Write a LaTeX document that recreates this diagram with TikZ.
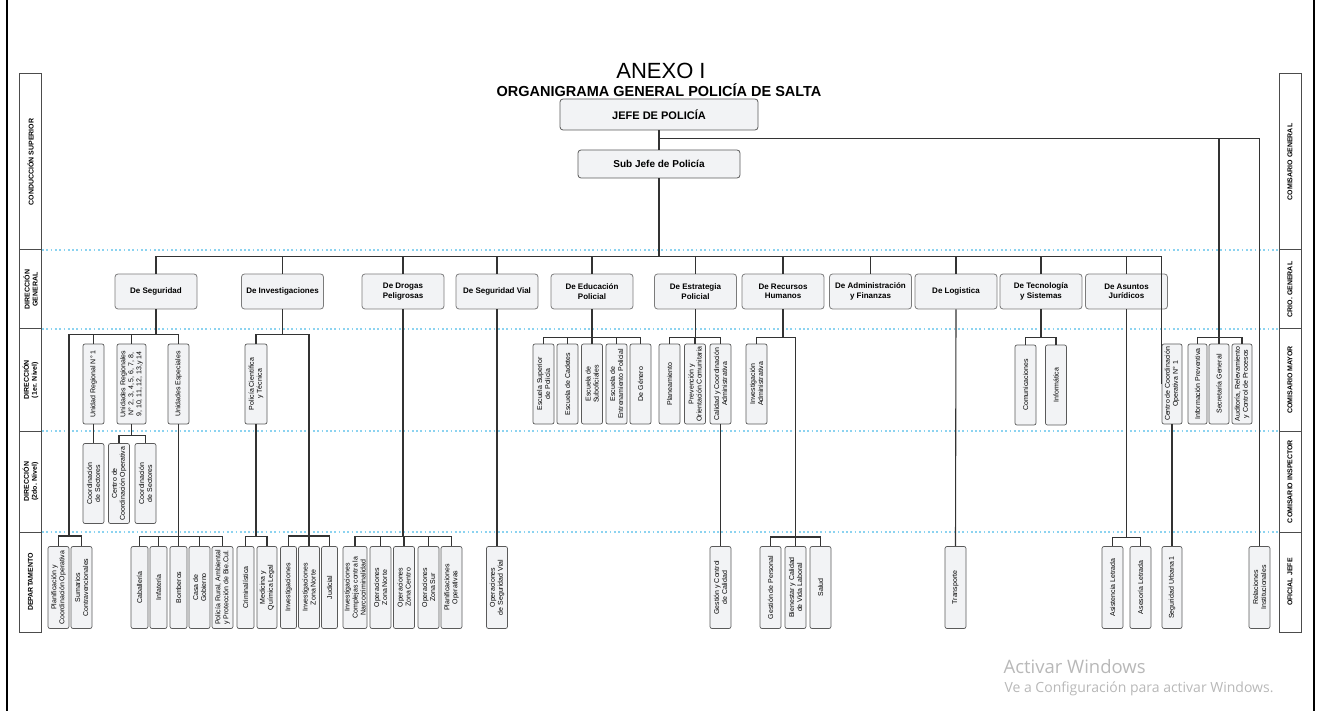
\documentclass[tikz,border=0pt]{standalone}
\usepackage{fontspec}
\setmainfont{Liberation Sans}
\newfontfamily\wmfont{Open Sans}
\usetikzlibrary{positioning,calc}

\definecolor{boxfill}{HTML}{F2F3F5}
\definecolor{boxline}{HTML}{5A5A5A}
\definecolor{linecol}{HTML}{333333}
\definecolor{rowcol}{HTML}{8CD3F0}

\begin{document}
\begin{tikzpicture}[x=1pt,y=-1pt,
    link/.style={draw=linecol,line width=1.1pt},
    rowsep/.style={draw=rowcol,line width=1.7pt,dash pattern=on 1.7pt off 2.6pt},
    sidecell/.style={rectangle,draw=black!70,line width=1pt,rotate=90,minimum height=22pt,inner sep=0pt,align=center,font=\fontsize{7}{8}\selectfont\bfseries},
    topbox/.style={rectangle,rounded corners=3pt,draw=boxline,fill=boxfill,line width=0.8pt},
    dirbox/.style={rectangle,rounded corners=3pt,draw=boxline!80,fill=boxfill,line width=0.8pt,minimum width=82pt,minimum height=35pt,align=center,inner sep=1pt,font=\fontsize{8}{9.5}\selectfont\bfseries},
    vbox/.style={rectangle,rounded corners=2pt,draw=boxline,fill=boxfill,line width=0.7pt,rotate=90,minimum width=80pt,minimum height=21pt,inner sep=0.5pt,align=center,font=\fontsize{7}{8}\selectfont},
    dbox/.style={vbox,minimum width=82pt}
]
    \useasboundingbox (0,0) rectangle (1318,711);

    % Outer frame
    \draw[line width=2pt] (7,0) -- (7,711);
    \draw[line width=2pt] (1314,0) -- (1314,711);

    % Row separators
    \foreach \y in {250,329,431,532} { \draw[rowsep] (42,\y) -- (1279,\y); }

    % Rank columns, left and right
    \foreach \t/\b/\lt/\rt in {74/250/{CONDUCCIÓN SUPERIOR}/{COMISARIO GENERAL},
        250/329/{DIRECCIÓN\\GENERAL}/{CRIO. GENERAL},
        329/431/{DIRECCIÓN\\(1er. Nivel)}/{COMISARIO MAYOR},
        431/532/{DIRECCIÓN\\(2do. Nivel)}/{COMISARIO INSPECTOR},
        532/632/{DEPARTAMENTO}/{OFICIAL JEFE}} {
        \node[sidecell,minimum width={(\b-\t)*1pt}] (L\t) at (30.5,{(\t+\b)/2}) {\lt};
        \node[sidecell,minimum width={(\b-\t)*1pt}] (R\t) at (1290,{(\t+\b)/2}) {\rt};
    }

    % Title
    \node[font=\fontsize{22}{24}\selectfont] (anexo) at (661,71) {ANEXO I};
    \node[font=\fontsize{14.5}{16}\selectfont\bfseries] (titulo) at (659,90) {ORGANIGRAMA GENERAL POLICÍA DE SALTA};

    % Conduccion superior
    \node[topbox,minimum width=198pt,minimum height=31pt,font=\fontsize{11}{12}\selectfont\bfseries] (jefe) at (659,114.5) {JEFE DE POLICÍA};
    \node[topbox,minimum width=162pt,minimum height=28pt,font=\fontsize{10}{12}\selectfont\bfseries] (subjefe) at (659,164) {Sub Jefe de Policía};
    \draw[link] (jefe) -- (subjefe);

    % Direccion general
    \foreach \n/\x/\t in {dSeg/156/{De Seguridad}, dInv/282.5/{De Investigaciones},
        dDro/403/{De Drogas\\Peligrosas}, dVial/497/{De Seguridad Vial},
        dEdu/592/{De Educación\\Policial}, dEst/695.5/{De Estrategia\\Policial},
        dRRHH/783/{De Recursos\\Humanos}, dAdm/870.5/{De Administración\\y Finanzas},
        dLog/956/{De Logistica}, dTec/1041/{De Tecnología\\y Sistemas},
        dJur/1126.5/{De Asuntos\\Jurídicos}} {
        \node[dirbox] (\n) at (\x,291.5) {\t};
    }

    % Direccion 1er. Nivel
    \node[vbox] (ur1) at (93.5,384) {Unidad Regional N° 1};
    \node[vbox,minimum height=29pt] (urs) at (131.5,384) {Unidades Regionales\\N° 2, 3, 4, 5, 6, 7, 8,\\9, 10, 11, 12, 13,y 14};
    \node[vbox] (uesp) at (178.5,384) {Unidades Especiales};
    \node[vbox,minimum height=22pt] (pct) at (256,384) {Policía Científica\\y Técnica};
    \node[vbox] (esp) at (543.5,384) {Escuela Superior\\de Policía};
    \node[vbox] (ecad) at (567.5,384) {Escuela de Cadetes};
    \node[vbox] (esub) at (592,384) {Escuela de\\Suboficiales};
    \node[vbox] (eent) at (616.5,384) {Escuela de\\Entrenamiento Policial};
    \node[vbox] (egen) at (640.5,384) {De Género};
    \node[vbox] (plan) at (669.5,384) {Planeamiento};
    \node[vbox] (prev) at (695,384) {Prevención y\\Orientación Comunitaria};
    \node[vbox] (cal) at (720.5,384) {Calidad y Coordinación\\Administrativa};
    \node[vbox] (inva) at (756.5,384) {Investigación\\Administrativa};
    \node[vbox] (comu) at (1025.5,385) {Comunicaciones};
    \node[vbox] (info) at (1056,385) {Informática};
    \node[vbox,minimum height=20pt] (cco) at (1172,384) {Centro de Coordinación\\Operativa N° 1};
    \node[vbox,minimum height=19pt] (ipre) at (1197.5,384) {Información Preventiva};
    \node[vbox,minimum height=20pt] (sgen) at (1219,384) {Secretaría General};
    \node[vbox,minimum height=20pt] (audi) at (1242,384) {Auditoría, Relevamiento\\y Control de Procesos};

    % Direccion 2do. Nivel
    \node[vbox] (cs1) at (93.5,483.5) {Coordinación\\de Sectores};
    \node[vbox] (cco2) at (119,483.5) {Centro de\\Coordinación Operativa};
    \node[vbox] (cs2) at (145.5,483.5) {Coordinación\\de Sectores};

    % Departamento
    \node[dbox] (pco) at (58.5,587.5) {Planificación y\\Coordinación Operativa};
    \node[dbox] (scon) at (81.5,587.5) {Sumarios\\Contravencionales};
    \node[dbox,minimum height=17pt] (cab) at (139.5,587.5) {Caballería};
    \node[dbox,minimum height=17pt] (inft) at (158.5,587.5) {Infatería};
    \node[dbox,minimum height=17pt] (bom) at (178.5,587.5) {Bomberos};
    \node[dbox] (cgob) at (199.5,587.5) {Casa de\\Gobierno};
    \node[dbox] (prur) at (222.5,587.5) {Policía Rural, Ambiental\\y Protección de Bie.Cul.};
    \node[dbox,minimum height=17pt] (crim) at (245.5,587.5) {Criminalística};
    \node[dbox,minimum height=20pt] (mql) at (267,587.5) {Medicina y\\Química Legal};
    \node[dbox,minimum height=16pt] (inv1) at (288.5,587.5) {Investigaciones};
    \node[dbox] (izn) at (309,587.5) {Investigaciones\\Zona Norte};
    \node[dbox,minimum height=16pt] (jud) at (329.5,587.5) {Judicial};
    \node[dbox,minimum height=24pt] (icn) at (355,587.5) {Investigaciones\\Complejas contra la\\Narcocriminalidad};
    \node[dbox] (ozn) at (380.5,587.5) {Operaciones\\Zona Norte};
    \node[dbox] (ozc) at (404,587.5) {Operaciones\\Zona Centro};
    \node[dbox] (ozs) at (428.5,587.5) {Operaciones\\Zona Sur};
    \node[dbox] (popr) at (451.5,587.5) {Planificaciones\\Operativas};
    \node[dbox] (osv) at (497,587.5) {Operaciones\\de Seguridad Vial};
    \node[dbox] (gcc) at (720.5,587.5) {Gestión y Control\\de Calidad};
    \node[dbox] (gper) at (770.5,587.5) {Gestión de Personal};
    \node[dbox] (bien) at (795.5,587.5) {Bienestar y Calidad\\de Vida Laboral};
    \node[dbox] (salu) at (820.5,587.5) {Salud};
    \node[dbox] (tran) at (955.5,587.5) {Transporte};
    \node[dbox] (asil) at (1112.5,587.5) {Asistencia Letrada};
    \node[dbox] (asel) at (1140.5,587.5) {Asesoría Letrada};
    \node[dbox,minimum height=20pt] (segu) at (1172,587.5) {Seguridad Urbana 1};
    \node[dbox] (rins) at (1259.5,587.5) {Relaciones\\Institucionales};

    % Jefe to staff units
    \draw[link] (jefe.south) -- ++(0,8) -| (sgen.east);
    \draw[link] (jefe.south) -- ++(0,8) -| (rins.east);
    \foreach \c in {ipre,audi} { \draw[link] (sgen.east) ++(0,-6) -| (\c.east); }

    % Sub jefe bus
    \foreach \n in {dSeg,dInv,dDro,dVial,dEdu,dEst,dRRHH,dAdm,dLog,dTec,dJur,cco} {
        \draw[link] (subjefe.south) -- ++(0,78) -| (\n.north);
    }

    % De Seguridad
    \coordinate (segA) at (69,536);
    \foreach \c in {ur1,urs,uesp} { \draw[link] (dSeg.south) -- ++(0,25) -| (\c.east); }
    \draw[link] (dSeg.south) -- ++(0,25) -| (segA);
    \foreach \c in {pco,scon} { \draw[link] (segA) -| (\c.east); }
    \draw[link] (ur1.west) -- (cs1.east);
    \foreach \c in {cco2,cs2} { \draw[link] (urs.west) -- ++(0,11) -| (\c.east); }
    \foreach \c in {cab,inft,bom,cgob,prur} { \draw[link] (uesp.west) -- ++(0,112) -| (\c.east); }

    % De Investigaciones
    \coordinate (invA) at (309,536);
    \draw[link] (dInv.south) -- ++(0,25) -| (pct.east);
    \draw[link] (dInv.south) -- ++(0,25) -| (invA);
    \foreach \c in {inv1,izn,jud} { \draw[link] (invA) -| (\c.east); }
    \foreach \c in {crim,mql} { \draw[link] (pct.west) -- ++(0,112) -| (\c.east); }

    % De Drogas Peligrosas, Seguridad Vial
    \foreach \c in {icn,ozn,ozc,ozs,popr} { \draw[link] (dDro.south) -- ++(0,227) -| (\c.east); }
    \draw[link] (dVial.south) -- (osv.east);

    % Educacion, Estrategia, Recursos Humanos
    \foreach \c in {esp,ecad,esub,eent,egen} { \draw[link] (dEdu.south) -- ++(0,28) -| (\c.east); }
    \foreach \c in {plan,prev,cal} { \draw[link] (dEst.south) -- ++(0,28) -| (\c.east); }
    \draw[link] (cal.west) -- (gcc.east);
    \coordinate (rrhhA) at (795.5,537);
    \draw[link] (dRRHH.south) -- ++(0,28) -| (inva.east);
    \draw[link] (dRRHH.south) -- ++(0,28) -| (rrhhA);
    \foreach \c in {gper,bien,salu} { \draw[link] (rrhhA) -| (\c.east); }

    % Logistica, Tecnologia, Asuntos Juridicos
    \draw[link] (dLog.south) -- (tran.east);
    \foreach \c in {comu,info} { \draw[link] (dTec.south) -- ++(0,28) -| (\c.east); }
    \foreach \c in {asil,asel} { \draw[link] (dJur.south) -- ++(0,228) -| (\c.east); }
    \draw[link] (cco.west) -- (segu.east);

    % Screen watermark
    \node[anchor=west,text=black!28,font=\wmfont\fontsize{18.5}{20}\selectfont] (wm1) at (1000,667) {Activar Windows};
    \node[anchor=west,text=black!28,font=\wmfont\fontsize{14}{16}\selectfont] (wm2) at (1001,689) {Ve a Configuración para activar Windows.};
\end{tikzpicture}
\end{document}
